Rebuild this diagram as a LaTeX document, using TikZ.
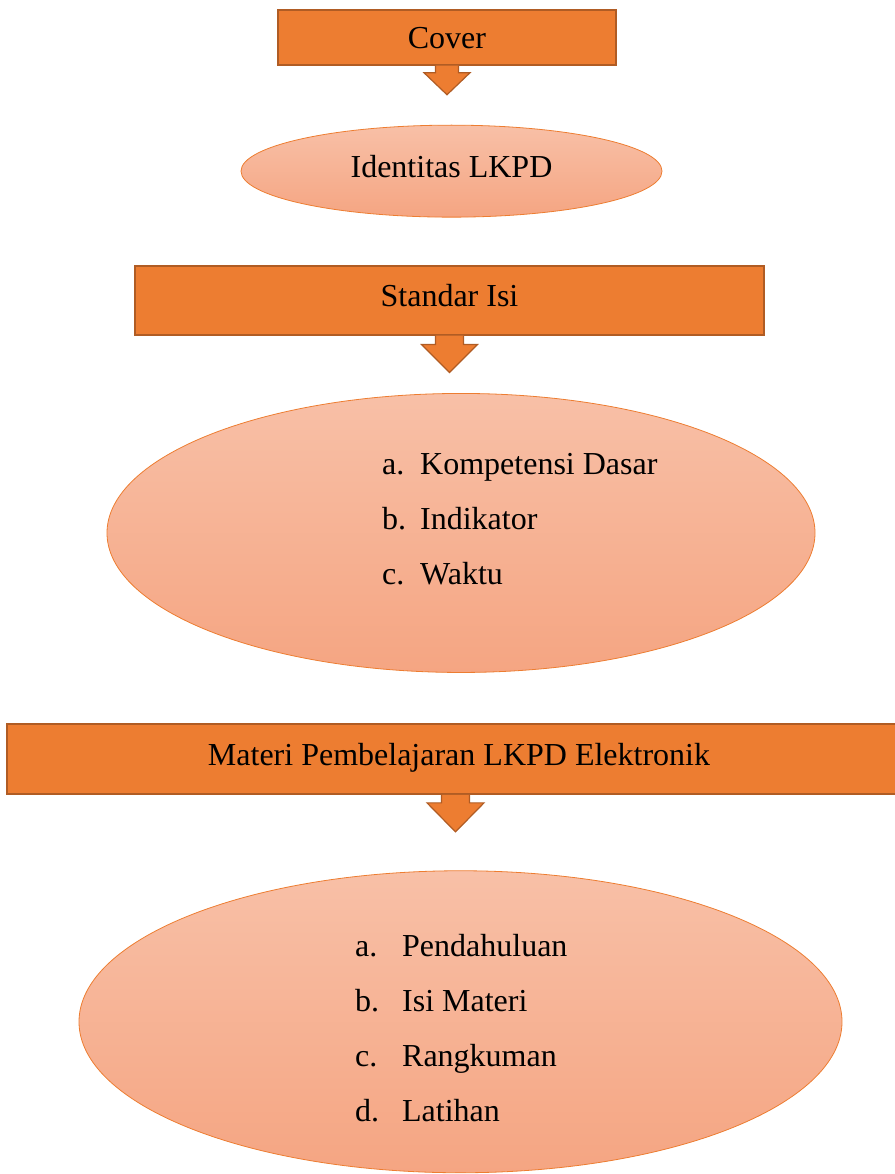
\documentclass[tikz,border=0pt]{standalone}
\usepackage{fontspec}
\setmainfont{Liberation Serif}
\usepackage{xcolor}
\usetikzlibrary{positioning,calc,shapes.geometric}

\definecolor{boxorange}{RGB}{237,125,49}
\definecolor{boxline}{RGB}{176,92,36}
\definecolor{elltop}{RGB}{248,192,167}
\definecolor{ellbot}{RGB}{245,165,130}

\begin{document}
\begin{tikzpicture}[
  x=1pt, y=-1pt,
  font=\fontsize{32}{40}\selectfont,
  headbox/.style={draw=boxline, line width=1.5pt, fill=boxorange, align=center, inner sep=0pt, text height=23pt, text depth=11pt},
  oval/.style={draw=boxorange, line width=0.8pt, ellipse, inner sep=0pt, top color=elltop, bottom color=ellbot, shading angle=0},
  item/.style={anchor=base west, inner sep=0pt},
  blockarrow/.style={draw=boxline, line width=1.2pt, fill=boxorange, line join=miter},
]
\useasboundingbox (0,0) rectangle (894,1174);
% cover and identity
\node[headbox, minimum width=338pt, minimum height=55pt, text depth=0pt] (cover) at (447,37.5) {Cover};
\node[oval, below=59pt of cover, xshift=4.5pt, minimum width=421pt, minimum height=92pt] (ident) {};
\node[inner sep=0pt, text height=23pt, text depth=11pt] (identtext) at (ident.center) {Identitas LKPD};
% content standard
\node[headbox, below=47.5pt of ident, xshift=-2pt, minimum width=629pt, minimum height=69pt] (standar) {Standar Isi};
\node[oval, below=57.5pt of standar, xshift=11.5pt, minimum width=708pt, minimum height=279pt] (isistd) {};
\foreach \lbl/\txt [count=\i] in {a./Kompetensi Dasar, b./Indikator, c./Waktu}
  \node[item] (std\i) at (382,{474+55*(\i-1)}) {\makebox[38pt][l]{\lbl}\txt};
% learning material
\node[headbox, below=50.5pt of isistd, xshift=-2pt, minimum width=904pt, minimum height=70pt] (materi) {Materi Pembelajaran LKPD Elektronik};
\node[oval, below=75.5pt of materi, xshift=1.5pt, minimum width=763pt, minimum height=302pt] (isimateri) {};
\foreach \lbl/\txt [count=\i] in {a./Pendahuluan, b./Isi Materi, c./Rangkuman, d./Latihan}
  \node[item] (mat\i) at (355,{956+55.3*(\i-1)}) {\makebox[47pt][l]{\lbl}\txt};
% block arrows
\draw[blockarrow] ($(cover.south)+(-11.5,0)$) -- ++(0,7) -- ++(-11.5,0) -- ++(23,22) -- ++(23,-22) -- ++(-11.5,0) -- ++(0,-7);
\draw[blockarrow] ($(standar.south)+(-14,0)$) -- ++(0,9) -- ++(-14,0) -- ++(28,28) -- ++(28,-28) -- ++(-14,0) -- ++(0,-9);
\draw[blockarrow] ($(materi.south)+(-17.5,0)$) -- ++(0,8) -- ++(-14.5,0) -- ++(28.5,29) -- ++(28.5,-29) -- ++(-14.5,0) -- ++(0,-8);
\end{tikzpicture}
\end{document}
